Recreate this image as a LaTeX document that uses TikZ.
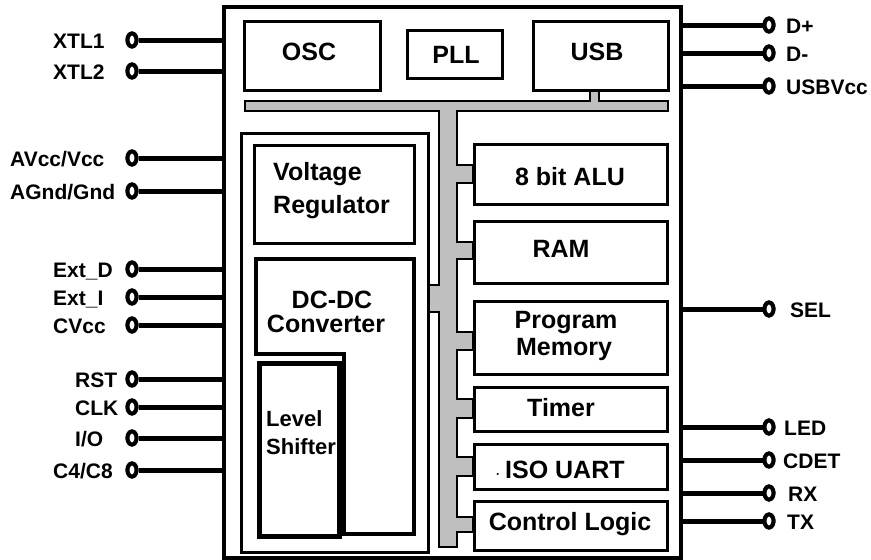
\documentclass[tikz,border=0pt]{standalone}
\usepackage{fontspec}
\setmainfont{Liberation Sans}
\usetikzlibrary{shapes.geometric}
\begin{document}
\begin{tikzpicture}[x=1pt,y=-1pt,
  chipbox/.style={draw, line width=3.5pt, inner sep=0pt, anchor=north west},
  blk/.style={draw, line width=3.2pt, inner sep=0pt, anchor=north west, fill=white},
  blkline/.style={draw, line width=3.2pt, fill=white},
  busstyle/.style={draw=black, line width=1.2pt, fill=black!25},
  lbl/.style={font=\bfseries\fontsize{25}{25}\selectfont, inner sep=0pt, anchor=base},
  lblw/.style={font=\bfseries\fontsize{25}{25}\selectfont, inner sep=0pt, anchor=base west},
  pinlbl/.style={font=\bfseries\fontsize{21}{21}\selectfont, inner sep=0pt, anchor=base west},
  pinring/.style={draw, ellipse, line width=4pt, fill=white, minimum width=9pt, minimum height=13pt, inner sep=0pt},
  pinline/.style={line width=5pt}
]
\useasboundingbox (0,0) rectangle (871,560);

% chip outline
\node[chipbox, minimum width=457pt, minimum height=551pt] (chip) at (222,5) {};

% pin rings (left)
\foreach \n/\y in {xtla/40, xtlb/71, avcc/158, agnd/191, extd/269, exti/297, cvcc/325, rst/379, clk/407, io/438, cfour/470}{
  \node[pinring] (p\n) at (132,\y) {};
  \draw[pinline] (p\n.east) -- (p\n -| chip.west);
  \node[pinring] at (p\n) {};
}
% pin rings (right)
\foreach \n/\y in {dp/25, dm/53, usbvcc/86, sel/309, led/427, cdet/460, rx/493, tx/521}{
  \node[pinring] (p\n) at (769,\y) {};
  \draw[pinline] (p\n.west) -- (p\n -| chip.east);
  \node[pinring] at (p\n) {};
}

% left labels
\node[pinlbl] (lxtla) at (53,48) {XTL1};
\node[pinlbl] (lxtlb) at (53,79) {XTL2};
\node[pinlbl] (lavcc) at (10,166) {AVcc/Vcc};
\node[pinlbl] (lagnd) at (10,199) {AGnd/Gnd};
\node[pinlbl] (lextd) at (53,277) {Ext\_D};
\node[pinlbl] (lexti) at (53,305) {Ext\_I};
\node[pinlbl] (lcvcc) at (53,333) {CVcc};
\node[pinlbl] (lrst) at (75,387) {RST};
\node[pinlbl] (lclk) at (75,415) {CLK};
\node[pinlbl] (lio) at (75,446) {I/O};
\node[pinlbl] (lcfour) at (53,478) {C4/C8};
% right labels
\node[pinlbl] (ldp) at (786,33) {D+};
\node[pinlbl] (ldm) at (786,61) {D-};
\node[pinlbl] (lusbvcc) at (786,94) {USBVcc};
\node[pinlbl] (lsel) at (790,317) {SEL};
\node[pinlbl] (lled) at (784,435) {LED};
\node[pinlbl] (lcdet) at (783,468) {CDET};
\node[pinlbl] (lrx) at (788,501) {RX};
\node[pinlbl] (ltx) at (787,529) {TX};

% bus
\draw[busstyle] (245,101) -- (590,101) -- (590,89) -- (599,89) -- (599,101) -- (668,101)
  -- (668,111) -- (457,111)
  -- (457,165) -- (473,165) -- (473,183) -- (457,183)
  -- (457,242) -- (473,242) -- (473,259) -- (457,259)
  -- (457,332) -- (473,332) -- (473,350) -- (457,350)
  -- (457,399) -- (473,399) -- (473,418) -- (457,418)
  -- (457,457) -- (473,457) -- (473,476) -- (457,476)
  -- (457,517) -- (473,517) -- (473,532) -- (457,532)
  -- (457,547) -- (439,547) -- (439,312) -- (427,312) -- (427,285) -- (439,285)
  -- (439,111) -- (245,111) -- cycle;

% top blocks
\node[blk, minimum width=136pt, minimum height=69pt] (osc) at (243,20) {};
\node[blk, minimum width=95pt, minimum height=48pt] (pll) at (406,29) {};
\node[blk, minimum width=135pt, minimum height=69pt] (usb) at (532,20) {};
\node[lbl] (tosc) at (309,60) {OSC};
\node[lbl] (tpll) at (456,63) {PLL};
\node[lbl] (tusb) at (597,60) {USB};

% power group
\node[blk, minimum width=187pt, minimum height=419pt] (pwr) at (240,132) {};
\node[blk, minimum width=160pt, minimum height=98pt] (vreg) at (253,144) {};
\node[lblw] (tvreg1) at (273,180) {Voltage};
\node[lblw] (tvreg2) at (273,213) {Regulator};
\draw[blkline] (256,259) -- (414,259) -- (414,534) -- (344,534) -- (344,354) -- (256,354) -- cycle;
\node[lbl] (tdc1) at (332,308) {DC-DC};
\node[lbl] (tdc2) at (326,332) {Converter};
\node[blk, minimum width=78pt, minimum height=171pt] (ls) at (259,363) {};
\begin{scope}
  \clip (ls.south west) rectangle (ls.north east);
  \node[font=\bfseries\fontsize{22}{22}\selectfont, inner sep=0pt, anchor=base west] (tls1) at (266,426) {Level};
  \node[font=\bfseries\fontsize{22}{22}\selectfont, inner sep=0pt, anchor=base west] (tls2) at (266,454) {Shifter};
\end{scope}
\draw[line width=3.2pt] (ls.north west) rectangle (ls.south east);

% right blocks
\node[blk, minimum width=193pt, minimum height=60pt] (alu) at (473,143) {};
\node[blk, minimum width=193pt, minimum height=62pt] (ram) at (473,220) {};
\node[blk, minimum width=193pt, minimum height=73pt] (pmem) at (473,300) {};
\node[blk, minimum width=193pt, minimum height=44pt] (timer) at (473,386) {};
\node[blk, minimum width=193pt, minimum height=45pt] (uart) at (473,443) {};
\node[blk, minimum width=193pt, minimum height=49pt] (ctrl) at (473,500) {};
\node[lbl] (talu) at (570,185) {8 bit ALU};
\node[lbl] (tram) at (561,257) {RAM};
\node[lbl] (tpm1) at (566,328) {Program};
\node[lbl] (tpm2) at (564,355) {Memory};
\node[lbl] (ttimer) at (561,416) {Timer};
\node[lblw] (tuart) at (496,478) {{\fontsize{12}{12}\selectfont ·}\hspace{5pt}ISO UART};
\node[lbl] (tctrl) at (570,530) {Control Logic};
\end{tikzpicture}
\end{document}
